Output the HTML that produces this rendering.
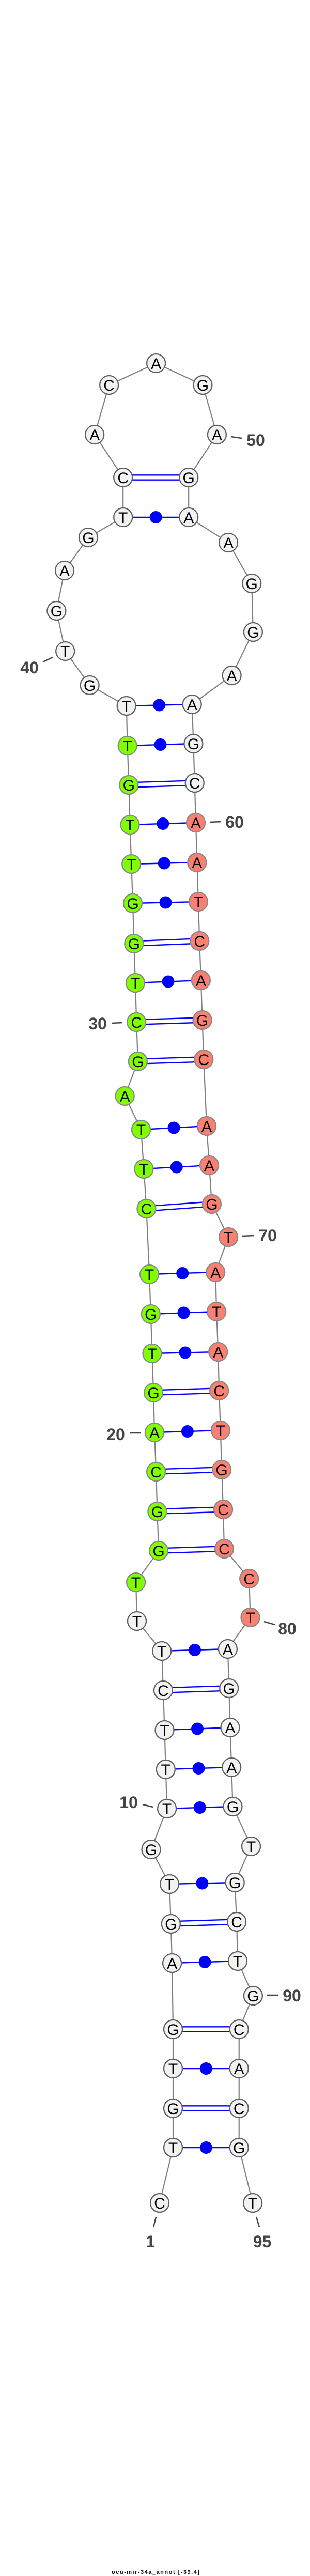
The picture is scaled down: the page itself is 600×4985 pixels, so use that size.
<!DOCTYPE html>
<html>
<head>
<meta charset="utf-8">
<style>
html,body{margin:0;padding:0;background:#fff}
svg{display:block}
.n{font:30px "Liberation Sans",sans-serif;fill:#000;text-anchor:middle}
.l{font:bold 32px "Liberation Sans",sans-serif;fill:#444;text-anchor:middle}
.g{fill:#f2f2f2;stroke:#606060;stroke-width:2.3}
.a{fill:#7fff00;stroke:#888;stroke-width:2.3}
.s{fill:#fa8072;stroke:#888;stroke-width:2.3}
</style>
</head>
<body>
<svg xmlns="http://www.w3.org/2000/svg" width="600" height="4985" viewBox="0 0 600 4985">
<rect width="600" height="4985" fill="#fff"/>
<polyline fill="none" stroke="#808080" stroke-width="2.2" points="309,4263 335,4156 335,4080 335,4003 335,3927 333.1,3799 330.8,3723 328.1,3646 292.5,3579 323.1,3500 320.8,3424 318.5,3348 315.9,3271 313.2,3195 265,3137 263.1,3062 307.1,3001 304.4,2925 302.1,2848 299,2772 297.1,2695 294.5,2619 291.8,2543 289.1,2466 283.4,2339 278.4,2262 273,2186 241.7,2121 266.9,2054 264.2,1978 262,1902 259.3,1826 257,1748 254.3,1672 251.6,1596 249.3,1519 246.7,1443 244.7,1366 173.6,1326 126.2,1260 109.4,1182 125,1104 170.9,1040 238.2,1001 238.2,924 183.2,841 211.1,745 302.1,703 392.4,745 419.9,841 365.2,924 365.2,1001 442.1,1050 487.2,1129 489.9,1223 448.6,1307 371.7,1363 374.4,1439 376.7,1515 379,1592 381.3,1669 383.9,1745 386.2,1821 388.9,1897 391.6,1974 394.3,2050 400,2179 405,2255 409.9,2330 442.1,2394 417.2,2462 419.1,2538 422.2,2616 424.1,2691 426.8,2768 429.1,2844 432.1,2921 434,2997 482.2,3055 484.5,3130 440.9,3191 443.2,3267 445.5,3343 448.2,3420 450.5,3496 486,3573 454.7,3643 458.1,3719 460,3795 489.9,3862 462.7,3927 462.7,4003 462.7,4080 462.7,4156 489.1,4263"/>
<path fill="none" stroke="#0000ff" stroke-width="2.4" d="
M335 4156L462.7 4156
M335 4003L462.7 4003
M333.1 3799L460 3795
M328.1 3646L454.7 3643
M323.1 3500L450.5 3496
M320.8 3424L448.2 3420
M318.5 3348L445.5 3343
M313.2 3195L440.9 3191
M299 2772L426.8 2768
M294.5 2619L422.2 2616
M291.8 2543L419.1 2538
M289.1 2466L417.2 2462
M278.4 2262L405 2255
M273 2186L400 2179
M262 1902L388.9 1897
M257 1748L383.9 1745
M254.3 1672L381.3 1669
M251.6 1596L379 1592
M246.7 1443L374.4 1439
M244.7 1366L371.7 1363
M238.2 1001L365.2 1001
M335 4075.3L462.7 4075.3M335 4084.7L462.7 4084.7
M335 3922.3L462.7 3922.3M335 3931.7L462.7 3931.7
M330.8 3718.3L458.1 3714.3M330.8 3727.7L458.1 3723.7
M315.9 3266.3L443.2 3262.3M315.9 3275.7L443.2 3271.7
M307.1 2996.3L434 2992.3M307.1 3005.7L434 3001.7
M304.4 2920.3L432.1 2916.3M304.4 2929.7L432.1 2925.7
M302.1 2843.3L429.1 2839.3M302.1 2852.7L429.1 2848.7
M297.1 2690.3L424.1 2686.3M297.1 2699.7L424.1 2695.7
M283.4 2334.3L409.9 2325.3M283.4 2343.7L409.9 2334.7
M266.9 2049.3L394.3 2045.3M266.9 2058.7L394.3 2054.7
M264.2 1973.3L391.6 1969.3M264.2 1982.7L391.6 1978.7
M259.3 1821.3L386.2 1816.3M259.3 1830.7L386.2 1825.7
M249.3 1514.3L376.7 1510.3M249.3 1523.7L376.7 1519.7
M238.2 919.3L365.2 919.3M238.2 928.7L365.2 928.7"/>
<g fill="#0000ff">
<circle cx="398.9" cy="4156" r="12"/>
<circle cx="398.9" cy="4003" r="12"/>
<circle cx="396.6" cy="3797" r="12"/>
<circle cx="391.4" cy="3644.5" r="12"/>
<circle cx="386.8" cy="3498" r="12"/>
<circle cx="384.5" cy="3422" r="12"/>
<circle cx="382" cy="3345.5" r="12"/>
<circle cx="377" cy="3193" r="12"/>
<circle cx="362.9" cy="2770" r="12"/>
<circle cx="358.4" cy="2617.5" r="12"/>
<circle cx="355.5" cy="2540.5" r="12"/>
<circle cx="353.2" cy="2464" r="12"/>
<circle cx="341.7" cy="2258.5" r="12"/>
<circle cx="336.5" cy="2182.5" r="12"/>
<circle cx="325.5" cy="1899.5" r="12"/>
<circle cx="320.5" cy="1746.5" r="12"/>
<circle cx="317.8" cy="1670.5" r="12"/>
<circle cx="315.3" cy="1594" r="12"/>
<circle cx="310.5" cy="1441" r="12"/>
<circle cx="308.2" cy="1364.5" r="12"/>
<circle cx="301.7" cy="1001" r="12"/>
</g>
<circle class="g" cx="309" cy="4263" r="18"/><text class="n" x="309" y="4274">C</text>
<circle class="g" cx="335" cy="4156" r="18"/><text class="n" x="335" y="4167">T</text>
<circle class="g" cx="335" cy="4080" r="18"/><text class="n" x="335" y="4091">G</text>
<circle class="g" cx="335" cy="4003" r="18"/><text class="n" x="335" y="4014">T</text>
<circle class="g" cx="335" cy="3927" r="18"/><text class="n" x="335" y="3938">G</text>
<circle class="g" cx="333.1" cy="3799" r="18"/><text class="n" x="333.1" y="3810">A</text>
<circle class="g" cx="330.8" cy="3723" r="18"/><text class="n" x="330.8" y="3734">G</text>
<circle class="g" cx="328.1" cy="3646" r="18"/><text class="n" x="328.1" y="3657">T</text>
<circle class="g" cx="292.5" cy="3579" r="18"/><text class="n" x="292.5" y="3590">G</text>
<circle class="g" cx="323.1" cy="3500" r="18"/><text class="n" x="323.1" y="3511">T</text>
<circle class="g" cx="320.8" cy="3424" r="18"/><text class="n" x="320.8" y="3435">T</text>
<circle class="g" cx="318.5" cy="3348" r="18"/><text class="n" x="318.5" y="3359">T</text>
<circle class="g" cx="315.9" cy="3271" r="18"/><text class="n" x="315.9" y="3282">C</text>
<circle class="g" cx="313.2" cy="3195" r="18"/><text class="n" x="313.2" y="3206">T</text>
<circle class="g" cx="265" cy="3137" r="18"/><text class="n" x="265" y="3148">T</text>
<circle class="a" cx="263.1" cy="3062" r="18"/><text class="n" x="263.1" y="3073">T</text>
<circle class="a" cx="307.1" cy="3001" r="18"/><text class="n" x="307.1" y="3012">G</text>
<circle class="a" cx="304.4" cy="2925" r="18"/><text class="n" x="304.4" y="2936">G</text>
<circle class="a" cx="302.1" cy="2848" r="18"/><text class="n" x="302.1" y="2859">C</text>
<circle class="a" cx="299" cy="2772" r="18"/><text class="n" x="299" y="2783">A</text>
<circle class="a" cx="297.1" cy="2695" r="18"/><text class="n" x="297.1" y="2706">G</text>
<circle class="a" cx="294.5" cy="2619" r="18"/><text class="n" x="294.5" y="2630">T</text>
<circle class="a" cx="291.8" cy="2543" r="18"/><text class="n" x="291.8" y="2554">G</text>
<circle class="a" cx="289.1" cy="2466" r="18"/><text class="n" x="289.1" y="2477">T</text>
<circle class="a" cx="283.4" cy="2339" r="18"/><text class="n" x="283.4" y="2350">C</text>
<circle class="a" cx="278.4" cy="2262" r="18"/><text class="n" x="278.4" y="2273">T</text>
<circle class="a" cx="273" cy="2186" r="18"/><text class="n" x="273" y="2197">T</text>
<circle class="a" cx="241.7" cy="2121" r="18"/><text class="n" x="241.7" y="2132">A</text>
<circle class="a" cx="266.9" cy="2054" r="18"/><text class="n" x="266.9" y="2065">G</text>
<circle class="a" cx="264.2" cy="1978" r="18"/><text class="n" x="264.2" y="1989">C</text>
<circle class="a" cx="262" cy="1902" r="18"/><text class="n" x="262" y="1913">T</text>
<circle class="a" cx="259.3" cy="1826" r="18"/><text class="n" x="259.3" y="1837">G</text>
<circle class="a" cx="257" cy="1748" r="18"/><text class="n" x="257" y="1759">G</text>
<circle class="a" cx="254.3" cy="1672" r="18"/><text class="n" x="254.3" y="1683">T</text>
<circle class="a" cx="251.6" cy="1596" r="18"/><text class="n" x="251.6" y="1607">T</text>
<circle class="a" cx="249.3" cy="1519" r="18"/><text class="n" x="249.3" y="1530">G</text>
<circle class="a" cx="246.7" cy="1443" r="18"/><text class="n" x="246.7" y="1454">T</text>
<circle class="g" cx="244.7" cy="1366" r="18"/><text class="n" x="244.7" y="1377">T</text>
<circle class="g" cx="173.6" cy="1326" r="18"/><text class="n" x="173.6" y="1337">G</text>
<circle class="g" cx="126.2" cy="1260" r="18"/><text class="n" x="126.2" y="1271">T</text>
<circle class="g" cx="109.4" cy="1182" r="18"/><text class="n" x="109.4" y="1193">G</text>
<circle class="g" cx="125" cy="1104" r="18"/><text class="n" x="125" y="1115">A</text>
<circle class="g" cx="170.9" cy="1040" r="18"/><text class="n" x="170.9" y="1051">G</text>
<circle class="g" cx="238.2" cy="1001" r="18"/><text class="n" x="238.2" y="1012">T</text>
<circle class="g" cx="238.2" cy="924" r="18"/><text class="n" x="238.2" y="935">C</text>
<circle class="g" cx="183.2" cy="841" r="18"/><text class="n" x="183.2" y="852">A</text>
<circle class="g" cx="211.1" cy="745" r="18"/><text class="n" x="211.1" y="756">C</text>
<circle class="g" cx="302.1" cy="703" r="18"/><text class="n" x="302.1" y="714">A</text>
<circle class="g" cx="392.4" cy="745" r="18"/><text class="n" x="392.4" y="756">G</text>
<circle class="g" cx="419.9" cy="841" r="18"/><text class="n" x="419.9" y="852">A</text>
<circle class="g" cx="365.2" cy="924" r="18"/><text class="n" x="365.2" y="935">G</text>
<circle class="g" cx="365.2" cy="1001" r="18"/><text class="n" x="365.2" y="1012">A</text>
<circle class="g" cx="442.1" cy="1050" r="18"/><text class="n" x="442.1" y="1061">A</text>
<circle class="g" cx="487.2" cy="1129" r="18"/><text class="n" x="487.2" y="1140">G</text>
<circle class="g" cx="489.9" cy="1223" r="18"/><text class="n" x="489.9" y="1234">G</text>
<circle class="g" cx="448.6" cy="1307" r="18"/><text class="n" x="448.6" y="1318">A</text>
<circle class="g" cx="371.7" cy="1363" r="18"/><text class="n" x="371.7" y="1374">A</text>
<circle class="g" cx="374.4" cy="1439" r="18"/><text class="n" x="374.4" y="1450">G</text>
<circle class="g" cx="376.7" cy="1515" r="18"/><text class="n" x="376.7" y="1526">C</text>
<circle class="s" cx="379" cy="1592" r="18"/><text class="n" x="379" y="1603">A</text>
<circle class="s" cx="381.3" cy="1669" r="18"/><text class="n" x="381.3" y="1680">A</text>
<circle class="s" cx="383.9" cy="1745" r="18"/><text class="n" x="383.9" y="1756">T</text>
<circle class="s" cx="386.2" cy="1821" r="18"/><text class="n" x="386.2" y="1832">C</text>
<circle class="s" cx="388.9" cy="1897" r="18"/><text class="n" x="388.9" y="1908">A</text>
<circle class="s" cx="391.6" cy="1974" r="18"/><text class="n" x="391.6" y="1985">G</text>
<circle class="s" cx="394.3" cy="2050" r="18"/><text class="n" x="394.3" y="2061">C</text>
<circle class="s" cx="400" cy="2179" r="18"/><text class="n" x="400" y="2190">A</text>
<circle class="s" cx="405" cy="2255" r="18"/><text class="n" x="405" y="2266">A</text>
<circle class="s" cx="409.9" cy="2330" r="18"/><text class="n" x="409.9" y="2341">G</text>
<circle class="s" cx="442.1" cy="2394" r="18"/><text class="n" x="442.1" y="2405">T</text>
<circle class="s" cx="417.2" cy="2462" r="18"/><text class="n" x="417.2" y="2473">A</text>
<circle class="s" cx="419.1" cy="2538" r="18"/><text class="n" x="419.1" y="2549">T</text>
<circle class="s" cx="422.2" cy="2616" r="18"/><text class="n" x="422.2" y="2627">A</text>
<circle class="s" cx="424.1" cy="2691" r="18"/><text class="n" x="424.1" y="2702">C</text>
<circle class="s" cx="426.8" cy="2768" r="18"/><text class="n" x="426.8" y="2779">T</text>
<circle class="s" cx="429.1" cy="2844" r="18"/><text class="n" x="429.1" y="2855">G</text>
<circle class="s" cx="432.1" cy="2921" r="18"/><text class="n" x="432.1" y="2932">C</text>
<circle class="s" cx="434" cy="2997" r="18"/><text class="n" x="434" y="3008">C</text>
<circle class="s" cx="482.2" cy="3055" r="18"/><text class="n" x="482.2" y="3066">C</text>
<circle class="s" cx="484.5" cy="3130" r="18"/><text class="n" x="484.5" y="3141">T</text>
<circle class="g" cx="440.9" cy="3191" r="18"/><text class="n" x="440.9" y="3202">A</text>
<circle class="g" cx="443.2" cy="3267" r="18"/><text class="n" x="443.2" y="3278">G</text>
<circle class="g" cx="445.5" cy="3343" r="18"/><text class="n" x="445.5" y="3354">A</text>
<circle class="g" cx="448.2" cy="3420" r="18"/><text class="n" x="448.2" y="3431">A</text>
<circle class="g" cx="450.5" cy="3496" r="18"/><text class="n" x="450.5" y="3507">G</text>
<circle class="g" cx="486" cy="3573" r="18"/><text class="n" x="486" y="3584">T</text>
<circle class="g" cx="454.7" cy="3643" r="18"/><text class="n" x="454.7" y="3654">G</text>
<circle class="g" cx="458.1" cy="3719" r="18"/><text class="n" x="458.1" y="3730">C</text>
<circle class="g" cx="460" cy="3795" r="18"/><text class="n" x="460" y="3806">T</text>
<circle class="g" cx="489.9" cy="3862" r="18"/><text class="n" x="489.9" y="3873">G</text>
<circle class="g" cx="462.7" cy="3927" r="18"/><text class="n" x="462.7" y="3938">C</text>
<circle class="g" cx="462.7" cy="4003" r="18"/><text class="n" x="462.7" y="4014">A</text>
<circle class="g" cx="462.7" cy="4080" r="18"/><text class="n" x="462.7" y="4091">C</text>
<circle class="g" cx="462.7" cy="4156" r="18"/><text class="n" x="462.7" y="4167">G</text>
<circle class="g" cx="489.1" cy="4263" r="18"/><text class="n" x="489.1" y="4274">T</text>
<path fill="none" stroke="#444" stroke-width="2.5" d="M447 845L468 848M83 1281L102 1272M406 1591L428 1590M216 1980L237 1979M469 2392L491 2391M252 2773L273 2773M511 3138L532 3144M276 3492L296 3497M517 3861L538 3861M302 4290L297 4310M496 4290L502 4310"/>
<text class="l" x="495" y="863">50</text>
<text class="l" x="57" y="1303">40</text>
<text class="l" x="454" y="1602">60</text>
<text class="l" x="189" y="1992">30</text>
<text class="l" x="518" y="2402">70</text>
<text class="l" x="224" y="2787">20</text>
<text class="l" x="556" y="3163">80</text>
<text class="l" x="249" y="3499">10</text>
<text class="l" x="565" y="3873">90</text>
<text class="l" x="291" y="4349">1</text>
<text class="l" x="507.5" y="4349">95</text>
<text x="216" y="4981" textLength="170" lengthAdjust="spacing" style="font:bold 11px 'Liberation Sans',sans-serif;fill:#111">ocu-mir-34a_annot [-39.4]</text>
</svg>
</body>
</html>
